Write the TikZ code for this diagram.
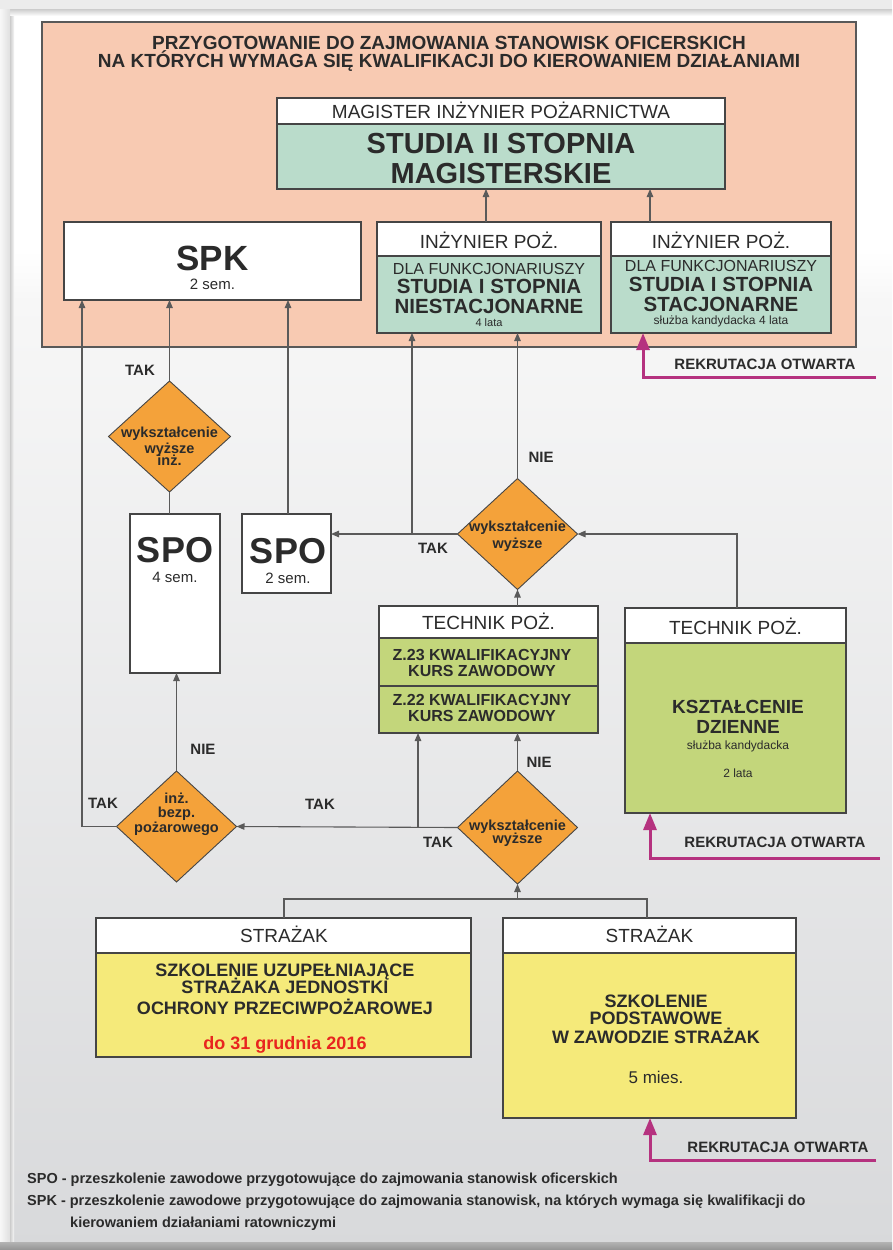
\documentclass[tikz,border=0pt]{standalone}
\usepackage{fontspec}
\setmainfont{Liberation Sans}
\usetikzlibrary{shapes.geometric,arrows.meta,calc}
\definecolor{salmon}{HTML}{F8CAB2}
\definecolor{mint}{HTML}{BADCCB}
\definecolor{lgreen}{HTML}{C3D67B}
\definecolor{yel}{HTML}{F5EA7A}
\definecolor{orng}{HTML}{F4A23A}
\definecolor{magc}{HTML}{B5327F}
\definecolor{txt}{HTML}{2B2B2B}
\definecolor{lin}{HTML}{5A5A5A}
\definecolor{boxl}{HTML}{454545}
\definecolor{redt}{HTML}{E8251F}
\definecolor{bgtop}{HTML}{F7F7F7}
\definecolor{bgbot}{HTML}{D8D9DB}
\newcommand\fs[2]{\fontsize{#1}{#2}\selectfont}
\tikzset{
  box/.style={draw=boxl, line width=1.1pt, inner sep=0pt, outer sep=0pt},
  hdr/.style={box, fill=white},
  arr/.style={draw=lin, line width=1.1pt, -{Triangle[length=8pt,width=6.5pt]}},
  ln/.style={draw=lin, line width=1.1pt},
  magarr/.style={draw=magc, line width=3pt, -{Triangle[length=17pt,width=13pt]}},
  dia/.style={diamond, draw=boxl, line width=0.9pt, fill=orng, inner sep=0pt, outer sep=0pt, minimum width=120pt, minimum height=111pt},
  t/.style={text=txt, inner sep=0pt, align=center},
  tb/.style={text=txt, inner sep=0pt, anchor=base},
  lbl/.style={text=txt, inner sep=0pt, font=\bfseries\fs{15}{15}},
  dtxt/.style={text=txt, inner sep=0pt, anchor=base, font=\bfseries\fs{14.5}{14}},
  leg/.style={text=txt, inner sep=0pt, anchor=base west, font=\bfseries\fs{14.5}{15}}
}
\begin{document}
\begin{tikzpicture}[x=1pt,y=-1pt]
\useasboundingbox (0,0) rectangle (892,1250);
% background
\fill[bgtop] (0,0) rectangle (892,1250);
\shade[top color=bgtop, bottom color=bgbot] (0,300) rectangle (892,1250);
\fill[bgtop] (0,0) rectangle (892,300);
\fill[white] (12,15) rectangle (892,300);
\shade[top color=white, bottom color=bgtop] (12,250) rectangle (892,301);
\fill[gray!15] (0,0) rectangle (892,9);
\shade[top color=gray!40, bottom color=white] (9,9) rectangle (892,16);
\shade[left color=gray!6, right color=gray!25] (0,9) rectangle (10,1243);
\shade[left color=gray!40, right color=bgtop] (10,16) rectangle (14,1243);
\shade[top color=gray!60, bottom color=gray!85] (0,1242) rectangle (892,1250);

% outer salmon frame
\node[box, draw=black!65, fill=salmon, minimum width=814pt, minimum height=325pt] (outer) at (449,184.5) {};
\node[tb, font=\bfseries\fs{19}{19}] (title1) at (449,49) {PRZYGOTOWANIE DO ZAJMOWANIA STANOWISK OFICERSKICH};
\node[tb, font=\bfseries\fs{19}{19}] (title2) at (449,67) {NA KTÓRYCH WYMAGA SIĘ KWALIFIKACJI DO KIEROWANIEM DZIAŁANIAMI};

% magister
\node[hdr, minimum width=448pt, minimum height=26pt] (magH) at (501,111) {};
\node[box, fill=mint, minimum width=448pt, minimum height=65pt] (magB) at (501,156.5) {};
\node[tb, font=\fs{19}{19}] (magHt) at (501,118) {MAGISTER INŻYNIER POŻARNICTWA};
\node[tb, font=\bfseries\fs{29}{30}] (magB1) at (501,153.5) {STUDIA II STOPNIA};
\node[tb, font=\bfseries\fs{29}{30}] (magB2) at (501,183.5) {MAGISTERSKIE};

% SPK
\node[hdr, minimum width=297pt, minimum height=78pt] (spk) at (212.5,261) {};
\node[tb, font=\bfseries\fs{35}{35}] (spkt) at (212.5,270.5) {SPK};
\node[tb, font=\fs{15}{15}] (spks) at (212.5,289.5) {2 sem.};

% Inzynier 1
\node[hdr, minimum width=224pt, minimum height=34pt] (inz1h) at (489,239) {};
\node[box, fill=mint, minimum width=224pt, minimum height=77pt] (inz1b) at (489,294.5) {};
\node[tb, font=\fs{19}{19}] (inz1ht) at (489,248) {INŻYNIER POŻ.};
\node[tb, font=\fs{16}{16}] (inz1a) at (489,274) {DLA FUNKCJONARIUSZY};
\node[tb, font=\bfseries\fs{20.5}{19}] (inz1b1) at (489,293.5) {STUDIA I STOPNIA};
\node[tb, font=\bfseries\fs{20.5}{19}] (inz1b2) at (489,313) {NIESTACJONARNE};
\node[tb, font=\fs{11}{11}] (inz1c) at (489,326) {4 lata};

% Inzynier 2
\node[hdr, minimum width=220pt, minimum height=34pt] (inz2h) at (721,239) {};
\node[box, fill=mint, minimum width=220pt, minimum height=77pt] (inz2b) at (721,294.5) {};
\node[tb, font=\fs{19}{19}] (inz2ht) at (721,248) {INŻYNIER POŻ.};
\node[tb, font=\fs{16}{16}] (inz2a) at (721,271) {DLA FUNKCJONARIUSZY};
\node[tb, font=\bfseries\fs{20.5}{19}] (inz2b1) at (721,291.5) {STUDIA I STOPNIA};
\node[tb, font=\bfseries\fs{20.5}{19}] (inz2b2) at (721,311) {STACJONARNE};
\node[tb, font=\fs{12}{12}] (inz2c) at (721,324.5) {służba kandydacka 4 lata};

% SPO boxes
\node[hdr, minimum width=90pt, minimum height=159pt] (spo4) at (175,593.5) {};
\node[tb, font=\bfseries\fs{36}{36}] (spo4t) at (175,562) {SPO};
\node[tb, font=\fs{15}{15}] (spo4s) at (175,582.5) {4 sem.};
\node[hdr, minimum width=89pt, minimum height=79pt] (spo2) at (286.5,553.5) {};
\node[tb, font=\bfseries\fs{36}{36}] (spo2t) at (288,563) {SPO};
\node[tb, font=\fs{15}{15}] (spo2s) at (288,583.5) {2 sem.};

% Technik 1
\node[hdr, minimum width=219pt, minimum height=32pt] (tech1h) at (488.5,622) {};
\node[box, fill=lgreen, minimum width=219pt, minimum height=48pt] (tech1a) at (488.5,662) {};
\node[box, fill=lgreen, minimum width=219pt, minimum height=47pt] (tech1b) at (488.5,709.5) {};
\node[tb, font=\fs{19}{19}] (tech1ht) at (488.5,629) {TECHNIK POŻ.};
\node[tb, font=\bfseries\fs{16}{16}] (tech1a1) at (482,660.5) {Z.23 KWALIFIKACYJNY};
\node[tb, font=\bfseries\fs{16}{16}] (tech1a2) at (482,676.5) {KURS ZAWODOWY};
\node[tb, font=\bfseries\fs{16}{16}] (tech1b1) at (482,705.5) {Z.22 KWALIFIKACYJNY};
\node[tb, font=\bfseries\fs{16}{16}] (tech1b2) at (482,721.5) {KURS ZAWODOWY};

% Technik 2
\node[hdr, minimum width=221pt, minimum height=35pt] (tech2h) at (735.5,625.5) {};
\node[box, fill=lgreen, minimum width=221pt, minimum height=170pt] (tech2b) at (735.5,728) {};
\node[tb, font=\fs{19}{19}] (tech2ht) at (735.5,634) {TECHNIK POŻ.};
\node[tb, font=\bfseries\fs{19}{20}] (tech2b1) at (738,713) {KSZTAŁCENIE};
\node[tb, font=\bfseries\fs{19}{20}] (tech2b2) at (738,733) {DZIENNE};
\node[tb, font=\fs{12}{12}] (tech2c) at (738,749) {służba kandydacka};
\node[tb, font=\fs{12}{12}] (tech2d) at (738,777.5) {2 lata};

% Strazak A
\node[hdr, minimum width=375pt, minimum height=35pt] (stAh) at (283.5,935.5) {};
\node[box, fill=yel, minimum width=375pt, minimum height=104pt] (stAb) at (283.5,1005) {};
\node[tb, font=\fs{19}{19}] (stAht) at (284,942) {STRAŻAK};
\node[tb, font=\bfseries\fs{18}{17}] (stA1) at (285,976.5) {SZKOLENIE UZUPEŁNIAJĄCE};
\node[tb, font=\bfseries\fs{18}{17}] (stA2) at (285,993.5) {STRAŻAKA JEDNOSTKI};
\node[tb, font=\bfseries\fs{18}{17}] (stA3) at (285,1014.5) {OCHRONY PRZECIWPOŻAROWEJ};
\node[tb, text=redt, font=\bfseries\fs{18}{18}] (stAd) at (285,1049.5) {do 31 grudnia 2016};

% Strazak B
\node[hdr, minimum width=293pt, minimum height=35pt] (stBh) at (649.5,935.5) {};
\node[box, fill=yel, minimum width=293pt, minimum height=165pt] (stBb) at (649.5,1035.5) {};
\node[tb, font=\fs{19}{19}] (stBht) at (649.5,942) {STRAŻAK};
\node[tb, font=\bfseries\fs{18}{18}] (stB1) at (656,1007.5) {SZKOLENIE};
\node[tb, font=\bfseries\fs{18}{18}] (stB2) at (656,1024.5) {PODSTAWOWE};
\node[tb, font=\bfseries\fs{18}{18}] (stB3) at (656,1043.5) {W ZAWODZIE STRAŻAK};
\node[tb, font=\fs{17}{17}] (stBs) at (656,1083.5) {5 mies.};

% diamonds
\node[dia, minimum width=122pt] (d1) at (169.5,436.5) {};
\node[dtxt] (d1a) at (169.5,437) {wykształcenie};
\node[dtxt] (d1b) at (169.5,453) {wyższe};
\node[dtxt] (d1c) at (169.5,465) {inż.};
\node[dia] (d2) at (517.5,534) {};
\node[dtxt] (d2a) at (517.5,531) {wykształcenie};
\node[dtxt] (d2b) at (517.5,548.5) {wyższe};
\node[dia] (d3) at (176.5,826.5) {};
\node[dtxt] (d3a) at (176.5,803) {inż.};
\node[dtxt] (d3b) at (176.5,817) {bezp.};
\node[dtxt] (d3c) at (176.5,832) {pożarowego};
\node[dia, minimum height=113pt] (d4) at (517.5,827.5) {};
\node[dtxt] (d4a) at (517.5,830) {wykształcenie};
\node[dtxt] (d4b) at (517.5,843.5) {wyższe};

% helper coordinates
\coordinate (X82) at (82,0);
\coordinate (X288) at (288,0);
\coordinate (X412) at (412,0);
\coordinate (X418) at (418,0);
\coordinate (X486) at (486,0);
\coordinate (X650) at (650,0);
\coordinate (X643) at (643,0);
\coordinate (X737) at (737,0);
\coordinate (X284) at (284,0);
\coordinate (X647) at (647,0);
\coordinate (jn) at (517.5,899);
\coordinate (m1) at (876,377);
\coordinate (m2) at (880,858);
\coordinate (m3) at (876,1160);

% connectors
\draw[arr] (inz1h.north -| X486) -- (magB.south -| X486);
\draw[arr] (inz2h.north -| X650) -- (magB.south -| X650);
\draw[arr] (d3.west) -| (spk.south -| X82);
\draw[arr] (d1.north) -- (spk.south -| d1.north);
\draw[arr] (spo2.north -| X288) -- (spk.south -| X288);
\draw[arr] (d2.west) -- (spo2.east |- d2.west);
\draw[arr] (d2.west -| X412) -- (inz1b.south -| X412);
\draw[arr] (d2.north) -- (inz1b.south -| d2.north);
\draw[arr] (tech2h.north -| X737) |- (d2.east);
\draw[arr] (tech1h.north -| d2.south) -- (d2.south);
\draw[ln] (spo4.north -| d1.south) -- (d1.south);
\draw[arr] (d3.north) -- (spo4.south -| d3.north);
\draw[arr] (d4.west) -- (d3.east);
\draw[arr] (d4.west -| X418) -- (tech1b.south -| X418);
\draw[arr] (d4.north) -- (tech1b.south -| d4.north);
\draw[ln] (stAh.north -| X284) |- (jn) -| (stBh.north -| X647);
\draw[arr] (jn) -- (d4.south);

% magenta recruitment arrows
\draw[magarr] (m1) -| (inz2b.south -| X643);
\draw[magarr] (m2) -| (tech2b.south -| X650);
\draw[magarr] (m3) -| (stBb.south -| X650);
\node[lbl] (r1) at (765,364) {REKRUTACJA OTWARTA};
\node[lbl] (r2) at (775,842) {REKRUTACJA OTWARTA};
\node[lbl] (r3) at (778,1147) {REKRUTACJA OTWARTA};

% yes / no labels
\node[lbl] (l1) at (140,370) {TAK};
\node[lbl] (l2) at (103,803) {TAK};
\node[lbl] (l3) at (203,749) {NIE};
\node[lbl] (l4) at (320,804) {TAK};
\node[lbl] (l5) at (438,842) {TAK};
\node[lbl] (l6) at (539,762) {NIE};
\node[lbl] (l7) at (541,457) {NIE};
\node[lbl] (l8) at (433,548) {TAK};

% legend
\node[leg] (leg1) at (27,1183) {SPO - przeszkolenie zawodowe przygotowujące do zajmowania stanowisk oficerskich};
\node[leg] (leg2) at (27,1205) {SPK - przeszkolenie zawodowe przygotowujące do zajmowania stanowisk, na których wymaga się kwalifikacji do};
\node[leg] (leg3) at (70,1227) {kierowaniem działaniami ratowniczymi};
\end{tikzpicture}
\end{document}
